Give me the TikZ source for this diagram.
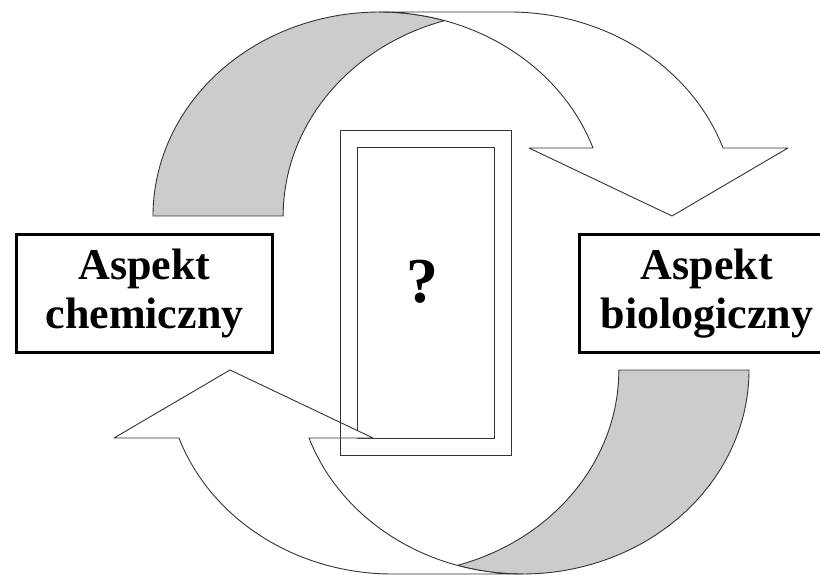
\documentclass[tikz,border=0pt]{standalone}
\usepackage{fontspec}
\setmainfont{Liberation Serif}
\usetikzlibrary{positioning}

\begin{document}
\begin{tikzpicture}[x=1pt, y=1pt,
    band/.style={draw=black!80, line width=0.9pt, line join=round},
    back/.style={band, fill=black!20},
    front/.style={band, fill=white},
    frame/.style={draw=black!80, line width=1pt},
    aspect/.style={draw=black, line width=3pt, fill=white, align=center,
                   minimum width=256, minimum height=118,
                   font=\bfseries\fontsize{44}{49}\selectfont}]

    \useasboundingbox (0,0) rectangle (820,574);

    % Inner frame (lies under the arrows)
    \draw[frame] (357,136) rectangle (494,426);

    % Two curved arrows, the lower one is the upper one turned by 180 degrees
    \foreach \r in {0,180} {
      \begin{scope}[rotate around={\r:(451,281)}]
        % shaded back strip
        \draw[back] (153,358)
            arc[start angle=180, end angle=73.3, x radius=226.5, y radius=204]
            arc[start angle=106.7, end angle=180, x radius=226.5, y radius=204] -- cycle;
        % front band with the head
        \draw[front] (379.5,562) -- (509.5,562)
            arc[start angle=90, end angle=19.47, x radius=226.5, y radius=204]
            -- (788,426) -- (672,358) -- (529,426) -- (593,426)
            arc[start angle=19.47, end angle=90, x radius=226.5, y radius=204] -- cycle;
      \end{scope}
    }

    % Outer frame
    \draw[frame] (340,119) rectangle (511,443);

    % Labels
    \node[font=\bfseries\fontsize{64}{64}\selectfont, anchor=base] (q) at (422,271) {?};
    \node[aspect] (chem) at (144.5,280.5) {Aspekt\\chemiczny};
    \node[aspect, minimum width=255] (bio) at (707,280.5) {Aspekt\\biologiczny};

\end{tikzpicture}
\end{document}
